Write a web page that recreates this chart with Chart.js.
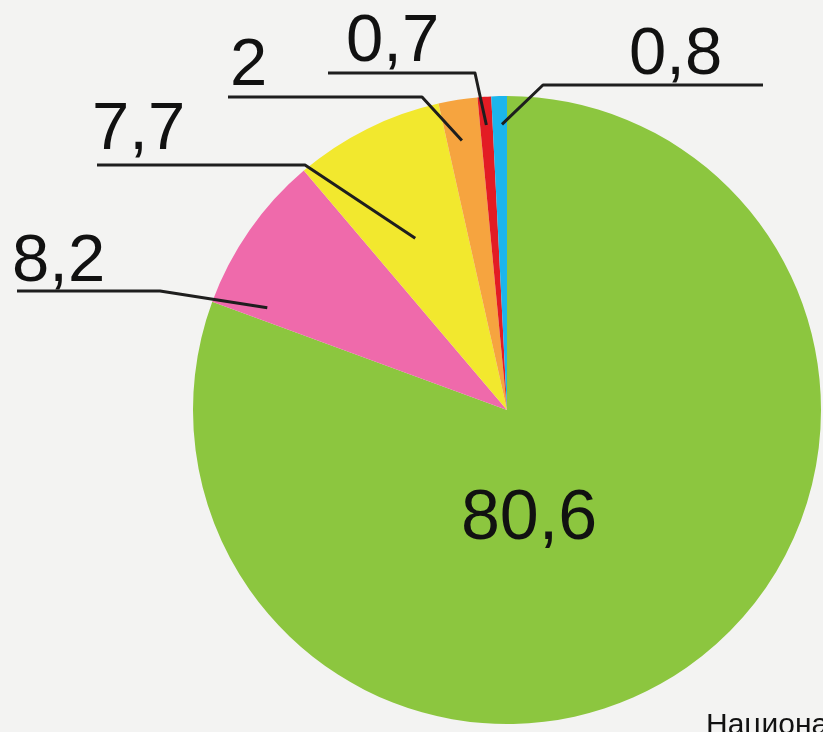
<!DOCTYPE html>
<html>
<head>
<meta charset="utf-8">
<script src="https://cdn.jsdelivr.net/npm/chart.js@4"></script>
<style>
    html, body { margin: 0; padding: 0; background: #f3f3f2; overflow: hidden; }
    #wrap { width: 823px; height: 732px; position: relative; }
</style>
</head>
<body>
<div id="wrap"><canvas id="pieCanvas"></canvas></div>
<script>
const labels = ["80,6", "8,2", "7,7", "2", "0,7", "0,8"];
const values = [80.6, 8.2, 7.7, 2, 0.7, 0.8];
const colors = ["#8cc63f", "#ef6aab", "#f2e82e", "#f6a43f", "#e31c24", "#1cb5ec"];

// where each label sits, and where its leader line hooks onto the slice
const labelLayout = [
    { text: [529, 539], size: 70, align: "center" },
    { text: [12, 281], size: 67, line: [[17, 291], [160, 291]], t: 0.1, r: 0.83 },
    { text: [92, 149], size: 67, line: [[97, 165], [305, 165]], t: 0.44, r: 0.62 },
    { text: [230, 85], size: 67, line: [[228, 97], [422, 97]], t: 0.43, r: 0.87 },
    { text: [346, 61], size: 67, line: [[328, 73], [475, 73]], t: 0.5, r: 0.91 },
    { text: [629, 74], size: 67, line: [[763, 85], [543, 85]], t: 0.65, r: 0.91 }
];

const leaderLabels = {
    id: "leaderLabels",
    afterDatasetsDraw(chart) {
        const ctx = chart.ctx;
        const arcs = chart.getDatasetMeta(0).data;
        ctx.save();
        arcs.forEach((arc, i) => {
            const lay = labelLayout[i];
            if (lay.line) {
                const a = arc.startAngle + lay.t * (arc.endAngle - arc.startAngle);
                const ax = arc.x + Math.cos(a) * arc.outerRadius * lay.r;
                const ay = arc.y + Math.sin(a) * arc.outerRadius * lay.r;
                ctx.strokeStyle = "#1e1e1e";
                ctx.lineWidth = 3;
                ctx.lineJoin = "round";
                ctx.beginPath();
                ctx.moveTo(lay.line[0][0], lay.line[0][1]);
                ctx.lineTo(lay.line[1][0], lay.line[1][1]);
                ctx.lineTo(ax, ay);
                ctx.stroke();
            }
            ctx.fillStyle = "#111";
            ctx.font = lay.size + "px 'Liberation Sans', Arial, sans-serif";
            ctx.textAlign = lay.align || "left";
            ctx.textBaseline = "alphabetic";
            ctx.fillText(labels[i], lay.text[0], lay.text[1]);
        });
        // source caption, cut off by the edge as in the original
        ctx.fillStyle = "#111";
        ctx.font = "30px 'Liberation Sans', Arial, sans-serif";
        ctx.textAlign = "left";
        ctx.fillText("Национальный доклад", 706, 734);
        ctx.restore();
    }
};

const pieCanvas = document.getElementById("pieCanvas");

const pieChart = new Chart(pieCanvas, {
    type: "pie",
    data: {
        labels: labels,
        datasets: [{
            data: values,
            backgroundColor: colors,
            borderWidth: 0
        }]
    },
    options: {
        responsive: true,
        maintainAspectRatio: false,
        animation: false,
        plugins: {
            legend: { display: false },
            tooltip: { enabled: false }
        },
        layout: {
            padding: { top: 96, bottom: 8, left: 193, right: 2 }
        }
    },
    plugins: [leaderLabels]
});
</script>
</body>
</html>
